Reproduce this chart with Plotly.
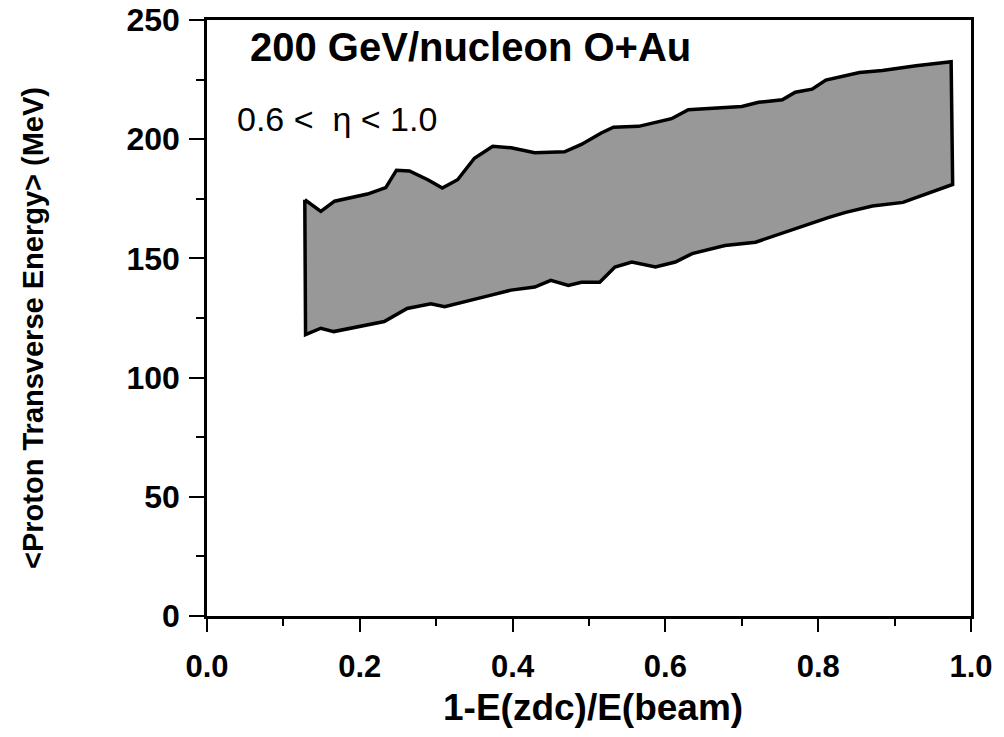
import plotly.graph_objects as go

# Upper edge of the band (left to right)
x_upper = [0.128, 0.149, 0.167, 0.210, 0.234, 0.248, 0.265, 0.289, 0.308, 0.328, 0.350,
           0.374, 0.398, 0.429, 0.468, 0.490, 0.516, 0.532, 0.565, 0.608, 0.630, 0.700,
           0.722, 0.753, 0.770, 0.792, 0.810, 0.854, 0.884, 0.928, 0.974]
y_upper = [174.6, 169.7, 174.0, 177.0, 179.7, 187.0, 186.7, 183.0, 179.5, 183.0, 192.0,
           197.0, 196.4, 194.3, 194.7, 197.8, 202.6, 205.0, 205.4, 208.6, 212.4, 213.7,
           215.5, 216.5, 219.7, 221.0, 224.8, 228.0, 228.8, 230.8, 232.5]

# Lower edge of the band (left to right)
x_lower = [0.129, 0.149, 0.166, 0.210, 0.232, 0.262, 0.293, 0.311, 0.337, 0.372, 0.398,
           0.429, 0.450, 0.473, 0.490, 0.514, 0.534, 0.556, 0.587, 0.613, 0.635, 0.678,
           0.718, 0.753, 0.775, 0.814, 0.836, 0.871, 0.911, 0.928, 0.976]
y_lower = [118.0, 120.7, 119.3, 122.0, 123.5, 129.0, 131.0, 129.7, 131.8, 134.6, 136.7,
           138.0, 140.8, 138.7, 140.0, 140.0, 146.4, 148.5, 146.4, 148.5, 152.0, 155.4,
           156.8, 160.3, 163.0, 167.2, 169.3, 172.0, 173.5, 175.5, 181.0]

x_ticks = [0.0, 0.2, 0.4, 0.6, 0.8, 1.0]
x_ticklabels = ["0.0", "0.2", "0.4", "0.6", "0.8", "1.0"]
y_ticks = [0, 50, 100, 150, 200, 250]
y_ticklabels = ["0", "50", "100", "150", "200", "250"]

poly_x = x_upper + x_lower[::-1] + [x_upper[0]]
poly_y = y_upper + y_lower[::-1] + [y_upper[0]]

FONT = "Liberation Sans"

fig = go.Figure()
fig.add_trace(go.Scatter(
    x=poly_x, y=poly_y, mode="lines", fill="toself",
    fillcolor="#989898", line=dict(color="black", width=3.5),
    showlegend=False, hoverinfo="skip"))

axis_common = dict(showgrid=False, zeroline=False, showline=True, linecolor="black",
                   linewidth=2.5, mirror=True, ticks="outside", tickcolor="black",
                   tickwidth=2, automargin=False, ticklabeloverflow="allow")

fig.update_xaxes(range=[0, 1], tickmode="array", tickvals=x_ticks, ticktext=x_ticklabels,
                 ticklen=13, ticklabelstandoff=8,
                 minor=dict(dtick=0.1, ticks="outside", ticklen=7,
                            tickcolor="black", tickwidth=2),
                 tickfont=dict(family=FONT, size=31, color="black", weight="bold"),
                 **axis_common)
fig.update_yaxes(range=[0, 250], tickmode="array", tickvals=y_ticks, ticktext=y_ticklabels,
                 ticklen=15, ticklabelstandoff=3,
                 minor=dict(dtick=25, ticks="outside", ticklen=8,
                            tickcolor="black", tickwidth=2),
                 tickfont=dict(family=FONT, size=32, color="black", weight="bold"),
                 **axis_common)

fig.update_layout(
    width=1004, height=737,
    margin=dict(l=207, r=33, t=20, b=121),
    plot_bgcolor="white", paper_bgcolor="white",
    annotations=[
        dict(text="200 GeV/nucleon O+Au", xref="paper", yref="paper", x=0.054, y=0.955,
             xanchor="left", yanchor="middle", showarrow=False,
             font=dict(family=FONT, size=40, color="black", weight="bold")),
        dict(text="0.6 <  η < 1.0", xref="paper", yref="paper", x=0.036, y=0.834,
             xanchor="left", yanchor="middle", showarrow=False,
             font=dict(family=FONT, size=34, color="black")),
        dict(text="1-E(zdc)/E(beam)", xref="paper", yref="paper", x=0.505, y=-0.153,
             xanchor="center", yanchor="middle", showarrow=False,
             font=dict(family=FONT, size=37, color="black", weight="bold")),
        dict(text="&lt;Proton Transverse Energy&gt; (MeV)",
             xref="paper", yref="paper", x=-0.228, y=0.483, textangle=-90,
             xanchor="center", yanchor="middle", showarrow=False,
             font=dict(family=FONT, size=29, color="black", weight="bold")),
    ],
)

fig.write_html("out.html", config={"displayModeBar": False},
               post_script="document.body.style.margin='0';")
